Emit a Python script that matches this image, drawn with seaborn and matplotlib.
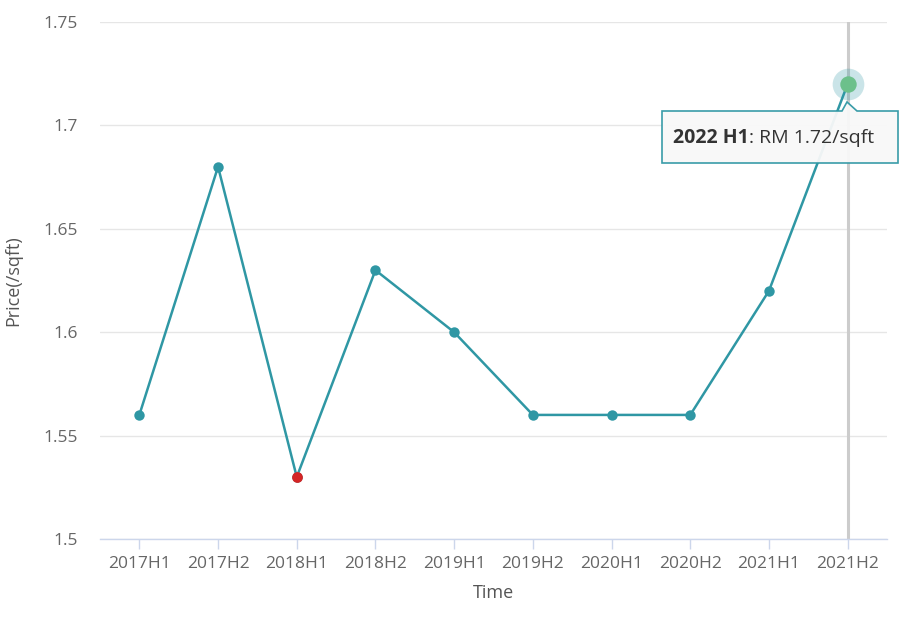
import matplotlib
matplotlib.use("Agg")
import matplotlib.pyplot as plt
from matplotlib.patches import Polygon
from matplotlib.text import Annotation
import seaborn as sns
import pandas as pd

# data
periods = ["2017H1", "2017H2", "2018H1", "2018H2", "2019H1",
           "2019H2", "2020H1", "2020H2", "2021H1", "2021H2"]
prices = [1.56, 1.68, 1.53, 1.63, 1.60, 1.56, 1.56, 1.56, 1.62, 1.72]
y_ticks = [1.5, 1.55, 1.6, 1.65, 1.7, 1.75]
y_tick_labels = ["1.5", "1.55", "1.6", "1.65", "1.7", "1.75"]
low_period = "2018H1"
hover_period = "2021H2"
tooltip_head = "2022 H1"
tooltip_body = ": RM 1.72/sqft"

LINE = "#2f97a4"
RED = "#d42525"
GREEN = "#6cc08b"
GRID = "#e6e6e6"
AXIS = "#ccd6eb"
TXT = "#666666"

sns.set_theme(style="white")
plt.rcParams["font.family"] = ["Open Sans", "DejaVu Sans"]

df = pd.DataFrame({"period": periods, "price": prices})

fig = plt.figure(figsize=(9.12, 6.2), dpi=100)
W, H = 912, 620
ax = fig.add_axes([100 / W, 1 - 539 / H, 787 / W, 517 / H])

# crosshair behind the series
hx = periods.index(hover_period)
ax.axvline(hx, color="#cccccc", lw=2.2, zorder=1)

sns.lineplot(data=df, x="period", y="price", color=LINE, lw=1.8,
             marker="o", markersize=7.5, markeredgewidth=0,
             ax=ax, zorder=3)

low = df[df["period"] == low_period]
sns.scatterplot(data=low, x="period", y="price", color=RED, s=60,
                linewidth=0, ax=ax, zorder=4)

hov = df[df["period"] == hover_period]
sns.scatterplot(data=hov, x="period", y="price", color=LINE, s=520,
                alpha=0.25, linewidth=0, ax=ax, zorder=4)
sns.scatterplot(data=hov, x="period", y="price", color=GREEN, s=140,
                linewidth=0, ax=ax, zorder=5)

ax.set_xlim(-0.5, len(periods) - 0.5)
ax.set_ylim(1.5, 1.75)
ax.set_yticks(y_ticks)
ax.set_yticklabels(y_tick_labels)
ax.yaxis.grid(True, color=GRID, lw=1)
ax.xaxis.grid(False)
for s in ["left", "right", "top"]:
    ax.spines[s].set_visible(False)
ax.spines["bottom"].set_color(AXIS)
ax.spines["bottom"].set_linewidth(1)

ax.tick_params(axis="y", length=0, pad=16, labelsize=12.5, labelcolor=TXT)
ax.tick_params(axis="x", length=7, width=1, color=AXIS, pad=5,
               labelsize=12.5, labelcolor=TXT, bottom=True)

ax.set_xlabel("Time", fontsize=13, color="#555555", labelpad=9)
ax.set_ylabel("Price(/sqft)", fontsize=13, color="#555555")
ax.yaxis.set_label_coords(-0.099, 0.5)

# tooltip box with notch pointing at the hovered point
pts = [(662, 111), (842, 111), (847, 102), (857, 111), (898, 111),
       (898, 163), (662, 163)]
poly = Polygon([(x / W, 1 - y / H) for x, y in pts], closed=True,
               transform=fig.transFigure, facecolor="#f8f8f8",
               edgecolor=LINE, lw=1.2, alpha=0.95, zorder=10)
fig.patches.append(poly)
t1 = fig.text(673 / W, 1 - 138 / H, tooltip_head, fontsize=14,
              fontweight="bold", color="#333333", va="center", ha="left",
              zorder=11)
t2 = Annotation(tooltip_body, xy=(1, 0.5), xycoords=t1, fontsize=14,
                color="#333333", va="center", ha="left", zorder=11)
fig.add_artist(t2)

fig.savefig("out.png", dpi=100)
